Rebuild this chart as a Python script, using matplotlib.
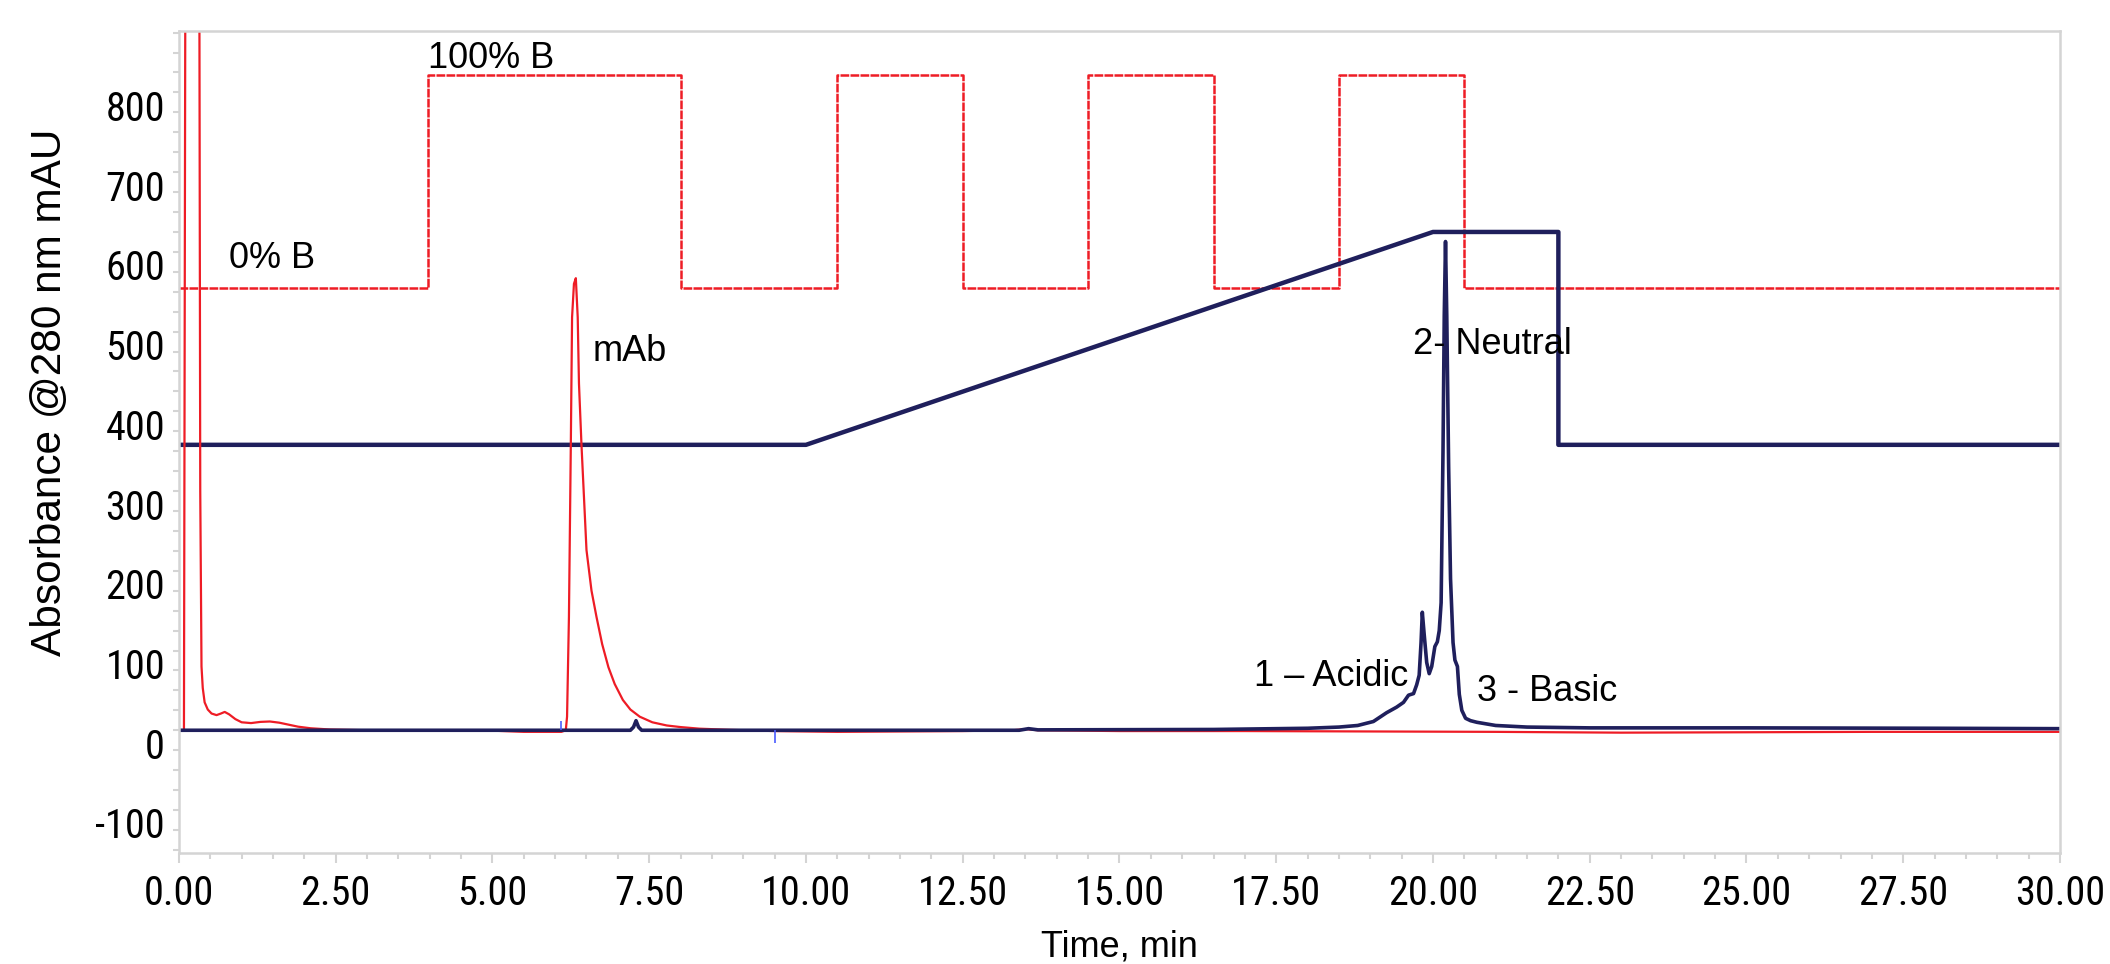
import matplotlib
matplotlib.use('Agg')
import matplotlib.pyplot as plt
from matplotlib import font_manager
from matplotlib.font_manager import FontProperties
from matplotlib.ticker import MultipleLocator
from matplotlib.transforms import ScaledTranslation

# gradient programme traces, drawn on the mAU scale as in the original
step_times = [0.0, 3.97, 8.0, 10.5, 12.5, 14.5, 16.5, 18.5, 20.5, 30.0]
step_levels = [555, 822, 555, 822, 555, 822, 555, 822, 555, 555]

ramp_times = [0.0, 10.0, 20.0, 22.0, 22.0, 30.0]
ramp_levels = [358, 358, 625, 625, 358, 358]

# red chromatogram (mAb injection)
red_t = [0.0, 0.08, 0.10, 0.11, 0.32, 0.34, 0.36, 0.38, 0.41, 0.46, 0.52, 0.60,
         0.67, 0.73, 0.80, 0.90, 1.00, 1.15, 1.30, 1.45, 1.60, 1.75, 1.90, 2.10,
         2.40, 3.00, 5.00, 5.50, 6.10, 6.17, 6.19, 6.22, 6.25, 6.27, 6.30, 6.33,
         6.36, 6.38, 6.42, 6.50, 6.58, 6.66, 6.75, 6.85, 6.95, 7.08, 7.20, 7.35,
         7.55, 7.78, 8.00, 8.30, 8.80, 9.50, 10.5, 12.5, 13.3, 13.5, 13.7, 15.0,
         17.0, 19.0, 21.0, 23.0, 25.0, 27.0, 30.0]
red_v = [0, 0, 848, 1200, 1200, 300, 80, 53, 35, 26, 21, 19,
         21, 23, 20, 14, 10, 9, 10.5, 11, 9.5, 7, 4.5, 2.5,
         1, 0, -0.5, -2, -2, 0, 17, 142, 358, 518, 560, 567,
         518, 435, 358, 226, 175, 142, 108, 79, 58, 38, 26, 17,
         10, 6, 4, 2, 0.5, -1, -2, -1, 0, 1.5, 0, -1,
         -1, -1.5, -2, -3, -2.5, -2, -2]

# blue chromatogram (charge variants)
blue_t = [0.0, 7.20, 7.25, 7.29, 7.33, 7.38, 13.4, 13.55, 13.7, 16.5, 17.5, 18.0,
          18.5, 18.8, 19.05, 19.26, 19.42, 19.53, 19.61, 19.69, 19.74, 19.78, 19.81,
          19.83, 19.86, 19.90, 19.94, 19.98, 20.03, 20.07, 20.10, 20.13, 20.16, 20.18,
          20.20, 20.22, 20.25, 20.28, 20.32, 20.35, 20.39, 20.42, 20.46, 20.52, 20.60,
          20.70, 21.0, 21.5, 22.5, 25.0, 28.0, 30.0]
blue_v = [0, 0, 4, 12, 4, 0, 0, 2, 0.5, 1, 2, 2.5,
          4, 6, 11, 22, 29, 35, 44, 46, 57, 69, 110,
          148, 120, 85, 71, 80, 105, 111, 125, 160, 350, 520,
          613, 520, 330, 190, 110, 88, 80, 45, 25, 15, 12,
          10, 6, 4, 3, 3, 2.5, 2]

# integration markers
marker_t = [6.09, 9.5]
marker_v = [12, -16]

labels = ["0% B", "100% B", "mAb", "2- Neutral", "1 \u2013 Acidic", "3 - Basic"]
label_t = [0.8, 3.97, 6.6, 19.68, 17.15, 20.71]
label_v = [592, 843, 475, 484, 67, 48]

y_ticks = [-100, 0, 100, 200, 300, 400, 500, 600, 700, 800]
x_ticks = [0, 2.5, 5, 7.5, 10, 12.5, 15, 17.5, 20, 22.5, 25, 27.5, 30]

RED = '#ee1c25'
NAVY = '#1f1f5c'
GREY = '#d4d4d4'


def narrow_font(size):
    # tick labels in the original use a condensed sans; take one if installed
    fonts = font_manager.fontManager.ttflist
    prefs = ['Liberation Sans Narrow', 'Arial Narrow', 'Roboto Condensed',
             'Noto Sans Condensed', 'Open Sans Condensed']
    for name in prefs:
        for f in fonts:
            if f.name == name and f.style == 'normal' and f.weight in (400, 'normal', 'regular'):
                return FontProperties(fname=f.fname, size=size)
    for f in fonts:
        if (f.stretch in ('condensed', 'semi-condensed') and f.style == 'normal'
                and f.weight in (400, 'normal', 'regular') and 'Mono' not in f.name
                and 'Serif' not in f.name):
            return FontProperties(fname=f.fname, size=size)
    return FontProperties(family='Liberation Sans', size=size - 3)


plt.rcParams['font.family'] = ['Liberation Sans', 'DejaVu Sans']
tick_fp = narrow_font(29)

fig = plt.figure(figsize=(21.1, 9.64), dpi=100)
ax = fig.add_axes([0.0848, 0.1151, 0.8915, 0.8527])

ax.step(step_times, step_levels, where='post', color=RED, lw=1.8,
        linestyle=(0, (3.5, 0.5)))
ax.plot(ramp_times, ramp_levels, color=NAVY, lw=3.2)
ax.plot(red_t, red_v, color=RED, lw=1.6)
ax.plot(blue_t, blue_v, color=NAVY, lw=2.6)
ax.vlines(marker_t, 0, marker_v, color='#4a5cff', lw=1.2)

for txt, t, v in zip(labels, label_t, label_v):
    ax.text(t, v, txt, fontsize=26, ha='left', va='center', color='black')

ax.set_xlim(0, 30)
ax.set_ylim(-154, 877)

ax.set_xticks(x_ticks)
ax.set_xticklabels([f"{x:.2f}" for x in x_ticks], fontproperties=tick_fp)
ax.xaxis.set_minor_locator(MultipleLocator(0.5))
ax.set_yticks(y_ticks)
ax.set_yticklabels([str(y) for y in y_ticks], fontproperties=tick_fp)
ax.yaxis.set_minor_locator(MultipleLocator(25))

ax.tick_params(axis='x', which='major', length=7, width=1.5, color=GREY, pad=8)
ax.tick_params(axis='x', which='minor', length=4, width=1.5, color=GREY)
ax.tick_params(axis='y', which='both', length=4, width=1.5, color=GREY, pad=6)

# the y labels sit a little below their ticks in the original
shift = ScaledTranslation(0, -13 / 100, fig.dpi_scale_trans)
for lab in ax.get_yticklabels():
    lab.set_transform(lab.get_transform() + shift)

for s in ax.spines.values():
    s.set_color(GREY)
    s.set_linewidth(1.8)

ax.set_ylabel("Absorbance @280 nm mAU", fontsize=30.5)
ax.yaxis.set_label_coords(-0.058, 0.56)
ax.set_xlabel("Time, min", fontsize=26)
ax.xaxis.set_label_coords(0.5, -0.0925)

fig.savefig('out.png', dpi=100)
